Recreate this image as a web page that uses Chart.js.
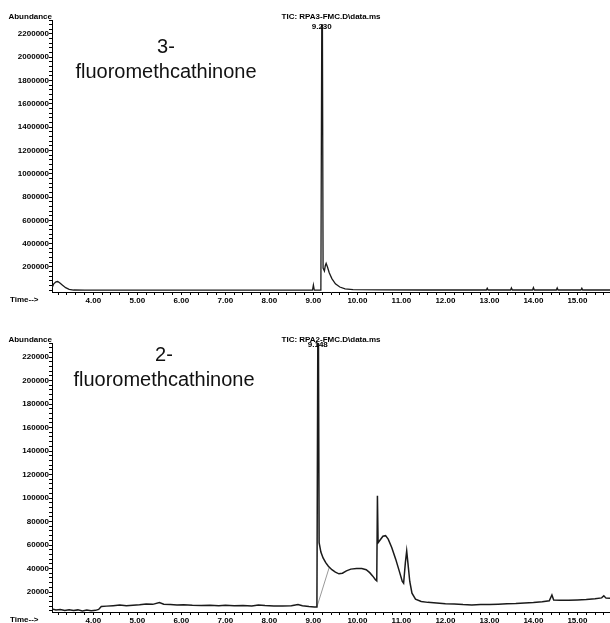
<!DOCTYPE html>
<html>
<head>
<meta charset="utf-8">
<title>TIC 3-FMC / 2-FMC</title>
<script src="https://cdn.jsdelivr.net/npm/chart.js@4.4.1/dist/chart.umd.min.js"></script>
<style>
  html, body { margin: 0; padding: 0; background: #fff; }
  #wrap { position: relative; width: 610px; height: 623px; overflow: hidden; }
  canvas { position: absolute; left: 0; }
  #topChart { top: 0; }
  #bottomChart { top: 318px; }
</style>
</head>
<body>
<div id="wrap">
  <canvas id="topChart" width="610" height="311"></canvas>
  <canvas id="bottomChart" width="610" height="305"></canvas>
</div>
<script>
// =======================================================
// === DATOS (leidos del cromatograma) ===
// =======================================================

// Eje de tiempo (min) - etiquetas mayores
const timeTicks = [4, 5, 6, 7, 8, 9, 10, 11, 12, 13, 14, 15];

// --- 3-fluorometcatinona (RPA3-FMC) ---
const fmc3Time = [
  3.06, 3.10, 3.15, 3.19, 3.24, 3.30, 3.37, 3.45, 3.55, 3.80,
  4.50, 5.50, 6.50, 7.50, 8.50, 8.98, 9.00, 9.02, 9.17, 9.19,
  9.205, 9.22, 9.25, 9.27, 9.29, 9.32, 9.36, 9.42, 9.50, 9.60,
  9.72, 9.90, 10.50, 11.50, 12.50, 12.93, 12.95, 12.97, 13.48, 13.50,
  13.52, 13.98, 14.00, 14.02, 14.52, 14.54, 14.56, 15.08, 15.10, 15.12,
  15.74
];
const fmc3Abund = [
  20000, 55000, 72000, 75000, 62000, 42000, 22000, 8000, 2000, 500,
  500, 800, 500, 800, 500, 800, 45000, 800, 1500, 2277000,
  2277000, 190000, 165000, 210000, 230000, 200000, 150000, 100000, 55000, 28000,
  12000, 5000, 2500, 2000, 2000, 2000, 18000, 2000, 2000, 20000,
  2000, 2000, 22000, 2000, 2000, 20000, 2000, 2000, 18000, 2000,
  2000
];
const fmc3Ticks = [200000, 400000, 600000, 800000, 1000000, 1200000,
                   1400000, 1600000, 1800000, 2000000, 2200000];

// --- 2-fluorometcatinona (RPA2-FMC) ---
const fmc2Time = [
  3.06, 3.15, 3.25, 3.35, 3.45, 3.55, 3.65, 3.75, 3.85, 3.95,
  4.05, 4.12, 4.18, 4.30, 4.45, 4.60, 4.75, 4.90, 5.05, 5.20,
  5.35, 5.50, 5.60, 5.75, 5.90, 6.05, 6.25, 6.45, 6.65, 6.85,
  7.00, 7.20, 7.40, 7.60, 7.75, 7.90, 8.10, 8.30, 8.50, 8.65,
  8.75, 8.90, 9.02, 9.08, 9.10, 9.115, 9.13, 9.17, 9.22, 9.28,
  9.34, 9.42, 9.50, 9.58, 9.66, 9.75, 9.85, 9.98, 10.10, 10.20,
  10.28, 10.35, 10.41, 10.44, 10.455, 10.47, 10.52, 10.58, 10.64, 10.70,
  10.78, 10.87, 10.95, 11.02, 11.05, 11.09, 11.12, 11.15, 11.19, 11.24,
  11.32, 11.45, 11.60, 11.80, 12.00, 12.20, 12.40, 12.60, 12.80, 13.00,
  13.20, 13.40, 13.60, 13.80, 14.00, 14.20, 14.36, 14.42, 14.46, 14.60,
  14.80, 15.00, 15.20, 15.40, 15.55, 15.60, 15.65, 15.74
];
const fmc2Abund = [
  5500, 4800, 5200, 4300, 5000, 4200, 4800, 3900, 4600, 4100,
  4400, 5200, 7600, 8000, 8400, 8900, 8300, 8700, 9100, 9800,
  9500, 11000, 9600, 9300, 9000, 9200, 8700, 8500, 8800, 8400,
  8700, 8300, 8500, 8200, 9000, 8500, 8200, 8100, 8300, 9400,
  8300, 7600, 7200, 7300, 232000, 232000, 62000, 54000, 49000, 45000,
  42000, 39000, 37000, 35500, 36000, 38000, 39500, 40000, 40000, 39000,
  36500, 33500, 30500, 29500, 102000, 62000, 64500, 67500, 68000, 65000,
  58000, 48000, 38000, 29000, 27500, 45000, 55000, 44000, 29000, 19000,
  14000, 12000, 11200, 10600, 10000, 9900, 9300, 9000, 9400, 9300,
  9700, 10000, 10200, 10600, 11000, 11800, 12600, 17500, 13200, 13000,
  13100, 13300, 13600, 14200, 15000, 16800, 14800, 14600
];
// linea base de integracion (gris)
const fmc2BaseTime = [9.08, 9.36];
const fmc2BaseAbund = [7300, 41000];
const fmc2Ticks = [20000, 40000, 60000, 80000, 100000, 120000,
                   140000, 160000, 180000, 200000, 220000];

// =======================================================
// === ESTILO ===
// =======================================================
const FONT = '"Liberation Sans", Arial, sans-serif';
const TIME_MIN = 3.06;
const TIME_MAX = 15.74;

function toPoints(xs, ys) {
  return xs.map((x, i) => ({ x: x, y: ys[i] }));
}

// marcas menores: cada 0.2 min en X, 5 divisiones por intervalo mayor en Y
function buildTimeTicks() {
  const out = [];
  for (let k = Math.ceil(TIME_MIN * 5); k <= Math.floor(TIME_MAX * 5); k++) {
    out.push({ value: k / 5 });
  }
  return out;
}

function buildYTicks(major, min, max) {
  const step = (major[1] - major[0]) / 5;
  const out = [];
  for (let v = 0; v <= max; v += step) {
    if (v >= min) out.push({ value: v });
  }
  return out;
}

// Textos del cromatograma (Abundance, Time-->, TIC, etiqueta de pico, compuesto)
const chromText = {
  id: 'chromText',
  afterDraw(chart, args, o) {
    const ctx = chart.ctx;
    const a = chart.chartArea;
    const xs = chart.scales.x;
    const ys = chart.scales.y;
    const ds = chart.data.datasets[0].data;
    let top = ds[0];
    ds.forEach(p => { if (p.y > top.y) top = p; });

    ctx.save();
    ctx.fillStyle = '#000';
    ctx.textBaseline = 'middle';
    ctx.font = 'bold 8px ' + FONT;
    ctx.textAlign = 'right';
    ctx.fillText('Abundance', a.left, a.top - 3);
    ctx.textAlign = 'center';
    ctx.fillText(o.tic, (a.left + a.right) / 2, a.top - 3);
    ctx.fillText(o.peakLabel, xs.getPixelForValue(top.x), Math.max(ys.getPixelForValue(top.y), a.top) + 2);
    ctx.textAlign = 'left';
    ctx.fillText('Time-->', 10, a.bottom + 8);

    ctx.font = '20px ' + FONT;
    ctx.textAlign = 'center';
    ctx.fillStyle = '#111';
    ctx.fillText(o.compound[0], o.compoundX, o.compoundY);
    ctx.fillText(o.compound[1], o.compoundX, o.compoundY + 25);
    ctx.restore();
  }
};

function makeChart(canvasId, datasets, yMajor, yMin, yMax, padTop, xHeight, text) {
  const ctx = document.getElementById(canvasId).getContext('2d');
  return new Chart(ctx, {
    type: 'line',
    data: { datasets: datasets },
    options: {
      responsive: false,
      animation: false,
      devicePixelRatio: 1,
      layout: { padding: { top: padTop, left: 0, right: 0, bottom: 0 } },
      plugins: {
        legend: { display: false },
        tooltip: { enabled: false },
        chromText: text
      },
      elements: { point: { radius: 0 }, line: { tension: 0 } },
      scales: {
        x: {
          type: 'linear',
          min: TIME_MIN,
          max: TIME_MAX,
          afterBuildTicks: s => { s.ticks = buildTimeTicks(); },
          afterFit: s => { s.height = xHeight; },
          grid: { drawOnChartArea: false, tickLength: 3, color: '#000', tickColor: '#000' },
          border: { display: true, color: '#000', width: 1 },
          ticks: {
            autoSkip: false,
            maxRotation: 0,
            padding: 1,
            color: '#000',
            font: { family: FONT, size: 8, weight: 'bold' },
            callback: v => timeTicks.includes(Math.round(v * 100) / 100) ? v.toFixed(2) : ''
          }
        },
        y: {
          type: 'linear',
          min: yMin,
          max: yMax,
          afterBuildTicks: s => { s.ticks = buildYTicks(yMajor, yMin, yMax); },
          afterFit: s => { s.width = 52; },
          grid: { drawOnChartArea: false, tickLength: 3, color: '#000', tickColor: '#000' },
          border: { display: true, color: '#000', width: 1 },
          ticks: {
            autoSkip: false,
            padding: 0,
            color: '#000',
            font: { family: FONT, size: 8, weight: 'bold' },
            callback: v => yMajor.includes(v) ? String(v) : ''
          }
        }
      }
    },
    plugins: [chromText]
  });
}

window.onload = () => {
  // --- GRAFICO SUPERIOR: 3-FMC ---
  makeChart('topChart', [{
      data: toPoints(fmc3Time, fmc3Abund),
      borderColor: '#1a1a1a',
      borderWidth: 1.3,
      fill: false
    }],
    fmc3Ticks, -15000, 2320000, 20, 19,
    { tic: 'TIC: RPA3-FMC.D\\data.ms', peakLabel: '9.230',
      compound: ['3-', 'fluoromethcathinone'], compoundX: 166, compoundY: 47 });

  // --- GRAFICO INFERIOR: 2-FMC ---
  makeChart('bottomChart', [{
      data: toPoints(fmc2Time, fmc2Abund),
      borderColor: '#1a1a1a',
      borderWidth: 1.5,
      fill: false
    }, {
      data: toPoints(fmc2BaseTime, fmc2BaseAbund),
      borderColor: '#999',
      borderWidth: 1,
      fill: false
    }],
    fmc2Ticks, 3000, 232000, 25, 11,
    { tic: 'TIC: RPA2-FMC.D\\data.ms', peakLabel: '9.148',
      compound: ['2-', 'fluoromethcathinone'], compoundX: 164, compoundY: 37 });
};
</script>
</body>
</html>
